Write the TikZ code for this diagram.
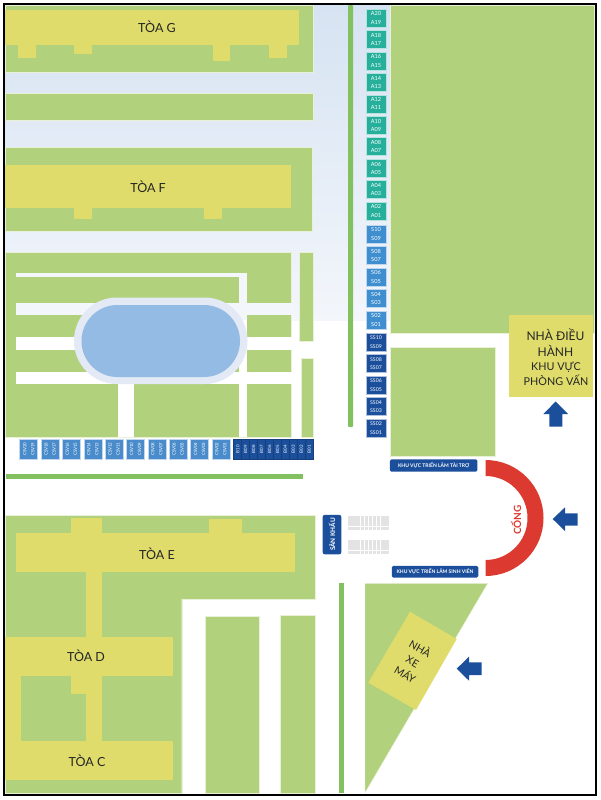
\documentclass[tikz,border=0pt]{standalone}
\usepackage{fontspec}
\setmainfont{Lato}
\definecolor{lawn}{HTML}{B1D17C}
\definecolor{block}{HTML}{DFDC6B}
\definecolor{hedge}{HTML}{83C05F}
\definecolor{pale}{HTML}{F3F6FB}
\definecolor{haze}{HTML}{D6E3F2}
\definecolor{ring}{HTML}{E3E9F5}
\definecolor{pool}{HTML}{93BBE3}
\definecolor{navy}{HTML}{1B4F9C}
\definecolor{teal}{HTML}{26B09C}
\definecolor{sky}{HTML}{3F8ECF}
\definecolor{csv}{HTML}{4A8CCB}
\definecolor{gate}{HTML}{DC3A30}
\tikzset{
	lawnfill/.style={fill=lawn, draw=white!70!lawn, line width=0.4pt},
	blockfill/.style={fill=block},
	hedgefill/.style={fill=hedge},
	arrowfill/.style={fill=navy},
	title/.style={font=\fontsize{12.5}{14}\selectfont, text=black!85},
	booth/.style={draw=white!65!#1, fill=#1, line width=0.5pt, text=white, inner sep=0pt, align=center, minimum width=20pt, minimum height=18pt, font=\fontsize{5.6}{8.3}\selectfont},
	areatag/.style={fill=navy, rounded corners=1.5pt, text=white, inner sep=0pt, font=\bfseries\fontsize{5}{6}\selectfont}
}
\begin{document}
\begin{tikzpicture}[x=1pt, y=-1pt]
	\useasboundingbox (0,0) rectangle (601,800);
	%sky behind the upper part
	\shade[top color=haze, bottom color=pale] (5,5) rectangle (390,320);
	%upper blocks
	\fill[lawnfill] (5,5) rectangle (313,72);
	\fill[lawnfill] (5,93.5) rectangle (313,120.5);
	\fill[lawnfill] (5,147) rectangle (312,231);
	\fill[blockfill] (5,10) rectangle (299,45);
	\fill[blockfill] (18,45) rectangle (36,58);
	\fill[blockfill] (74,45) rectangle (92,54);
	\fill[blockfill] (213,45) rectangle (230,61);
	\fill[blockfill] (269,45) rectangle (287,58);
	\fill[blockfill] (5,165) rectangle (291,208);
	\fill[blockfill] (74,208) rectangle (92,219);
	\fill[blockfill] (204,208) rectangle (222,219);
	\node[title] (toaG) at (157,27) {TÒA G};
	\node[title] (toaF) at (148,187) {TÒA F};
	%garden round the pool
	\fill[lawnfill] (5,252.5) rectangle (291.5,437);
	\fill[lawnfill] (299.5,252.5) rectangle (313,341);
	\fill[lawnfill] (301,358) rectangle (313,437);
	\fill[pale] (16,272.5) rectangle (247,276.5);
	\fill[pale] (239,272.5) rectangle (247,320);
	\fill[white] (239,320) rectangle (247,437);
	\fill[pale] (16,303) rectangle (291.5,314.5);
	\fill[white] (16,337) rectangle (291.5,349.5);
	\fill[white] (16,371.5) rectangle (291.5,384);
	\fill[white] (118,384) rectangle (134,437);
	\fill[ring, rounded corners=43pt] (74,297.5) rectangle (247.5,384);
	\fill[pool, rounded corners=36pt] (81.5,305) rectangle (240,377);
	%hedges
	\fill[hedgefill, rounded corners=1pt] (348,5) rectangle (353,427);
	\fill[hedgefill] (6,474) rectangle (302.5,479);
	\fill[hedgefill] (339,583) rectangle (343.5,793);
	%right side
	\fill[lawnfill] (390,5) rectangle (594,333);
	\fill[lawnfill] (390,347.5) rectangle (495,456);
	\fill[blockfill] (509,315) rectangle (593,397);
	\node[align=center, text=black!85, font=\fontsize{12}{16}\selectfont] (dieuhanh) at (555.5,343) {NHÀ ĐIỀU\\HÀNH};
	\node[align=center, text=black!85, font=\fontsize{10.8}{14.5}\selectfont] (phongvan) at (556,374) {KHU VỰC\\PHÒNG VẤN};
	\fill[arrowfill] (555.7,401.5) -- (568,414) -- (562.3,414) -- (562.3,426.7) -- (549.3,426.7) -- (549.3,414) -- (543.3,414) -- cycle;
	%booths, right column
	\foreach \i/\hi/\lo in {0/A20/A19, 1/A18/A17, 2/A16/A15, 3/A14/A13, 4/A12/A11, 5/A10/A09, 6/A08/A07, 7/A06/A05, 8/A04/A03, 9/A02/A01}
		\node[booth=teal] (\hi) at (376,18+21.45*\i) {\hi\\\lo};
	\foreach \i/\hi/\lo in {0/S10/S09, 1/S08/S07, 2/S06/S05, 3/S04/S03, 4/S02/S01}
		\node[booth=sky] (\hi) at (376,234+21.5*\i) {\hi\\\lo};
	\foreach \i/\hi/\lo in {0/SS10/SS09, 1/SS08/SS07, 2/SS06/SS05, 3/SS04/SS03, 4/SS02/SS01}
		\node[booth=navy, font=\fontsize{5.2}{8.3}\selectfont] (\hi) at (376,342+21.5*\i) {\hi\\\lo};
	%booths, bottom row
	\foreach \i/\hi/\lo in {0/CSV20/CSV19, 1/CSV18/CSV17, 2/CSV16/CSV15, 3/CSV14/CSV13, 4/CSV12/CSV11, 5/CSV10/CSV09, 6/CSV08/CSV07, 7/CSV06/CSV05, 8/CSV04/CSV03, 9/CSV02/CSV01}
		\node[booth=csv, rotate=90, font=\fontsize{4.4}{8}\selectfont] (\hi) at (28.7+21.35*\i,449.2) {\hi\\\lo};
	\foreach \i/\b in {0/B10, 1/B09, 2/B08, 3/B07, 4/B06, 5/B05, 6/B04, 7/B03, 8/B02, 9/B01}
		\node[booth=navy, rotate=90, minimum height=7.95pt, draw=navy!80!black, font=\fontsize{4.4}{8}\selectfont] (\b) at (237.7+7.95*\i,449.2) {\b};
	%gate and stage
	\fill[gate] (485.5,460) arc [start angle=90, end angle=-90, radius=58pt] -- (485.5,560) arc [start angle=-90, end angle=90, radius=42pt] -- cycle;
	\node[rotate=90, text=gate, font=\bfseries\fontsize{10}{12}\selectfont] (cong) at (516,520) {CỔNG};
	\fill[arrowfill] (552.7,519) -- (565,507.3) -- (565,513.3) -- (577.7,513.3) -- (577.7,525.7) -- (565,525.7) -- (565,531) -- cycle;
	\node[areatag, minimum width=87.5pt, minimum height=12.4pt] (taitro) at (433.7,465.5) {KHU VỰC TRIỂN LÃM TÀI TRỢ};
	\node[areatag, minimum width=86.5pt, minimum height=11.7pt] (sinhvien) at (435,571.8) {KHU VỰC TRIỂN LÃM SINH VIÊN};
	\node[areatag, rotate=90, minimum width=39.3pt, minimum height=18.6pt, rounded corners=2pt, font=\bfseries\fontsize{6.4}{8}\selectfont] (sankhau) at (332,534.6) {SÂN KHẤU};
	%seats
	\foreach \top in {515.7,539.8}
		\foreach \j in {0,1,2,3}
			\foreach \i in {0,...,9}
				\fill[black!11] (348.3+4.07*\i,\top+3.6*\j) rectangle +(3.7,3.3);
	%lower left
	\fill[lawnfill] (5,515.5) -- (315,515.5) -- (315,599) -- (181.7,599) -- (181.7,793) -- (5,793) -- cycle;
	\fill[lawnfill] (205,616) rectangle (259.3,793);
	\fill[lawnfill] (280.5,614.7) rectangle (315.5,793);
	\fill[blockfill] (16,532.7) rectangle (295,572);
	\fill[blockfill] (71,517.7) rectangle (102,532.7);
	\fill[blockfill] (209,519) rectangle (242,532.7);
	\fill[blockfill] (86,572) rectangle (102,637);
	\fill[blockfill] (5,636.7) rectangle (173,676);
	\fill[blockfill] (71,676) rectangle (102,694);
	\fill[blockfill] (86,694) rectangle (102,741);
	\fill[blockfill] (5,676) rectangle (21,741);
	\fill[blockfill] (5,740.7) rectangle (173,780);
	\node[title] (toaE) at (157,554) {TÒA E};
	\node[title] (toaD) at (86,656) {TÒA D};
	\node[title] (toaC) at (87,761) {TÒA C};
	%motorbike park
	\fill[lawnfill] (365,583.3) -- (487.7,583.3) -- (365,792.7) -- cycle;
	\fill[blockfill] (410,611.7) -- (456.7,639) -- (416,710) -- (368.3,682.7) -- cycle;
	\node[rotate=-30, align=center, text=black!85, font=\fontsize{10.5}{15}\selectfont, inner sep=0pt] (xemay) at (413,661) {NHÀ\\XE\\MÁY};
	\fill[arrowfill] (456.7,668.7) -- (469,656.7) -- (469,662.3) -- (481.7,662.3) -- (481.7,675) -- (469,675) -- (469,680.7) -- cycle;
	%frame
	\draw[line width=2pt] (4,4) rectangle (596,795);
\end{tikzpicture}
\end{document}
